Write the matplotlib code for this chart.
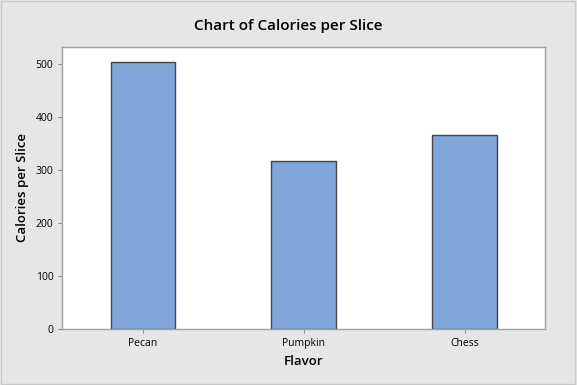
import numpy as np
import matplotlib.pyplot as plt

flavors = ["Pecan", "Pumpkin", "Chess"]
calories = [504, 317, 366]
yticks = [0, 100, 200, 300, 400, 500]

plt.rcParams['font.family'] = ['Open Sans', 'DejaVu Sans']

fig = plt.figure(figsize=(5.77, 3.85), dpi=100, facecolor='#e6e6e6')
ax = fig.add_axes([0.108, 0.1447, 0.8365, 0.734])
ax.set_facecolor('white')

x = np.arange(len(flavors))
ax.bar(x, calories, width=0.4, color='#7ea6d8', edgecolor='#454545', linewidth=1.0, zorder=2)

ax.set_xlim(-0.5, 2.5)
ax.set_ylim(0, 533)
ax.set_xticks(x)
ax.set_xticklabels(flavors)
ax.set_yticks(yticks)

for s in ax.spines.values():
    s.set_color('#a0a0a0')
    s.set_linewidth(1.0)

ax.tick_params(axis='both', colors='#909090', labelcolor='black', labelsize=7.5,
               length=3, width=0.8, direction='out')

ax.set_xlabel("Flavor", fontsize=9.5, fontweight='semibold', labelpad=4)
ax.set_ylabel("Calories per Slice", fontsize=9.5, fontweight='semibold', labelpad=5)
fig.text(0.5, 0.932, "Chart of Calories per Slice", ha='center', va='center',
         fontsize=11, fontweight='semibold')

# outer frame
fig.patches.append(plt.Rectangle((0.002, 0.003), 0.995, 0.994, transform=fig.transFigure,
                                 fill=False, edgecolor='#c8c8c8', linewidth=1.0))

fig.savefig('out.png', dpi=100, facecolor=fig.get_facecolor())
